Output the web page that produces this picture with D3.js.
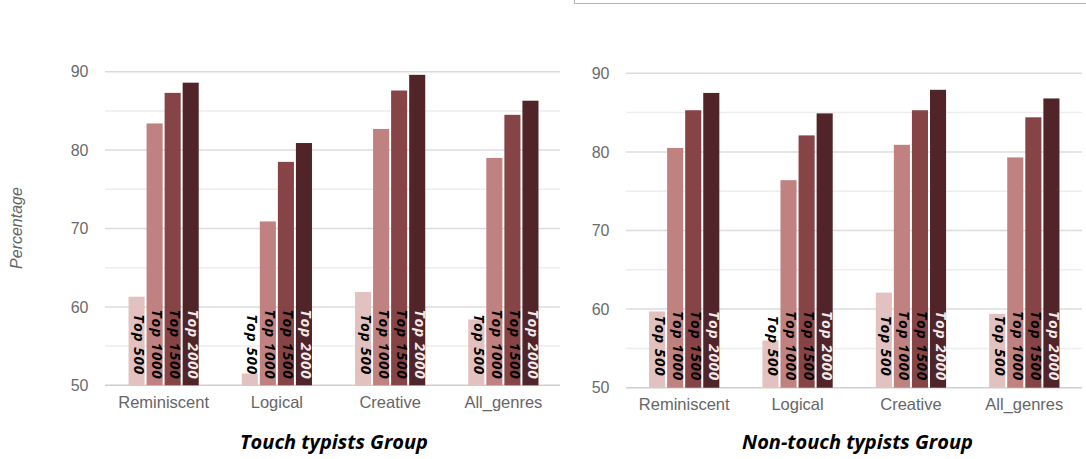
<!DOCTYPE html>
<html>
<head>
<meta charset="utf-8">
<script src="https://cdn.jsdelivr.net/npm/d3@7/dist/d3.min.js"></script>
<style>
  html, body { margin: 0; padding: 0; background: #ffffff; }
  svg { display: block; }
</style>
</head>
<body>
<svg id="chart" width="1086" height="459"></svg>
<script>
// Categories, series and tick values
const genres = ["Reminiscent", "Logical", "Creative", "All_genres"];
const seriesNames = ["Top 500", "Top 1000", "Top 1500", "Top 2000"];
const seriesColors = ["#e2c1c1", "#c08181", "#874446", "#502428"];
const labelColors = ["#000000", "#000000", "#000000", "#f2eaea"];

// Percentage per genre, one array per series
const touchTop500  = [61.3, 51.5, 61.9, 58.4];
const touchTop1000 = [83.4, 70.9, 82.7, 79.0];
const touchTop1500 = [87.3, 78.5, 87.6, 84.5];
const touchTop2000 = [88.6, 80.9, 89.6, 86.3];

const nonTouchTop500  = [59.7, 56.0, 62.1, 59.4];
const nonTouchTop1000 = [80.5, 76.4, 80.9, 79.3];
const nonTouchTop1500 = [85.3, 82.1, 85.3, 84.4];
const nonTouchTop2000 = [87.5, 84.9, 87.9, 86.8];

const majorTicks = [50, 60, 70, 80, 90];
const minorTicks = [55, 65, 75, 85];

const svg = d3.select("#chart");

// thin frame edge along the top right
svg.append("path")
  .attr("d", "M574.5,0 V3.5 H1086")
  .attr("fill", "none")
  .attr("stroke", "#b5b5b5")
  .attr("stroke-width", 1);

function drawPanel(opts) {
  const series = opts.series;
  const g = svg.append("g");

  const y = d3.scaleLinear().domain([50, 90]).range([opts.yBottom, opts.yTop]);
  const x0 = d3.scaleBand().domain(genres).range(opts.xRange)
    .paddingInner(0.38).paddingOuter(0.19);
  const x1 = d3.scaleBand().domain(seriesNames).range([0, x0.bandwidth()])
    .paddingInner(0.11).paddingOuter(0);

  // gridlines
  g.selectAll("line.minor").data(minorTicks).join("line")
    .attr("x1", opts.gridRange[0]).attr("x2", opts.gridRange[1])
    .attr("y1", d => y(d)).attr("y2", d => y(d))
    .attr("stroke", "#ededed").attr("stroke-width", 1.5);
  g.selectAll("line.major").data(majorTicks).join("line")
    .attr("x1", opts.gridRange[0]).attr("x2", opts.gridRange[1])
    .attr("y1", d => y(d)).attr("y2", d => y(d))
    .attr("stroke", d => d === 50 ? "#cfcfcf" : "#dcdcdc").attr("stroke-width", 1.5);

  // y axis labels
  const yAxis = d3.axisLeft(y).tickValues(majorTicks).tickSize(0).tickPadding(0);
  const ya = g.append("g").attr("transform", `translate(${opts.tickX},0)`).call(yAxis);
  ya.select(".domain").remove();
  ya.selectAll("text")
    .attr("font-family", "Liberation Sans, Arial, sans-serif")
    .attr("font-size", 16).attr("fill", "#6b6b6b");

  // x axis labels
  const xAxis = d3.axisBottom(x0).tickSize(0).tickPadding(0);
  const xa = g.append("g").attr("transform", `translate(0,${opts.yBottom + 11})`).call(xAxis);
  xa.select(".domain").remove();
  xa.selectAll("text")
    .attr("font-family", "Liberation Sans, Arial, sans-serif")
    .attr("font-size", 16.5).attr("fill", "#666666");

  // bars
  const groups = g.selectAll("g.genre").data(genres).join("g")
    .attr("transform", d => `translate(${x0(d)},0)`);

  groups.each(function(genre, gi) {
    const grp = d3.select(this);
    const rows = seriesNames.map((s, si) => ({ s, si, v: series[si][gi] }));
    grp.selectAll("rect").data(rows).join("rect")
      .attr("x", d => x1(d.s))
      .attr("y", d => y(d.v))
      .attr("width", x1.bandwidth())
      .attr("height", d => y(50) - y(d.v))
      .attr("fill", d => seriesColors[d.si]);
    grp.selectAll("text").data(rows).join("text")
      .attr("transform", d => `translate(${x1(d.s) + x1.bandwidth() / 2 - 2.5},${opts.labelY}) rotate(90)`)
      .attr("text-anchor", "middle")
      .attr("font-family", "Open Sans, DejaVu Sans, sans-serif")
      .attr("font-weight", "bold")
      .attr("font-style", "italic")
      .attr("font-size", 15)
      .attr("letter-spacing", 0.9)
      .attr("fill", d => labelColors[d.si])
      .text(d => d.s);
  });

  // panel title
  g.append("text")
    .attr("x", opts.titleX).attr("y", 449)
    .attr("text-anchor", "middle")
    .attr("font-family", "Open Sans, DejaVu Sans, sans-serif")
    .attr("font-weight", "bold").attr("font-style", "italic")
    .attr("font-size", 20).attr("fill", "#000")
    .text(opts.title);
}

drawPanel({
  series: [touchTop500, touchTop1000, touchTop1500, touchTop2000],
  xRange: [107, 560], gridRange: [105, 560],
  yTop: 71.7, yBottom: 385.3, tickX: 88.5, labelY: 344.5,
  titleX: 334, title: "Touch typists Group"
});

drawPanel({
  series: [nonTouchTop500, nonTouchTop1000, nonTouchTop1500, nonTouchTop2000],
  xRange: [627.5, 1081], gridRange: [626, 1082],
  yTop: 73.3, yBottom: 387.7, tickX: 609.5, labelY: 346,
  titleX: 857.5, title: "Non-touch typists Group"
});

// y axis title
svg.append("text")
  .attr("transform", "translate(22,228) rotate(-90)")
  .attr("text-anchor", "middle")
  .attr("font-family", "Liberation Sans, Arial, sans-serif")
  .attr("font-style", "italic")
  .attr("font-size", 16).attr("fill", "#666666")
  .text("Percentage");
</script>
</body>
</html>
